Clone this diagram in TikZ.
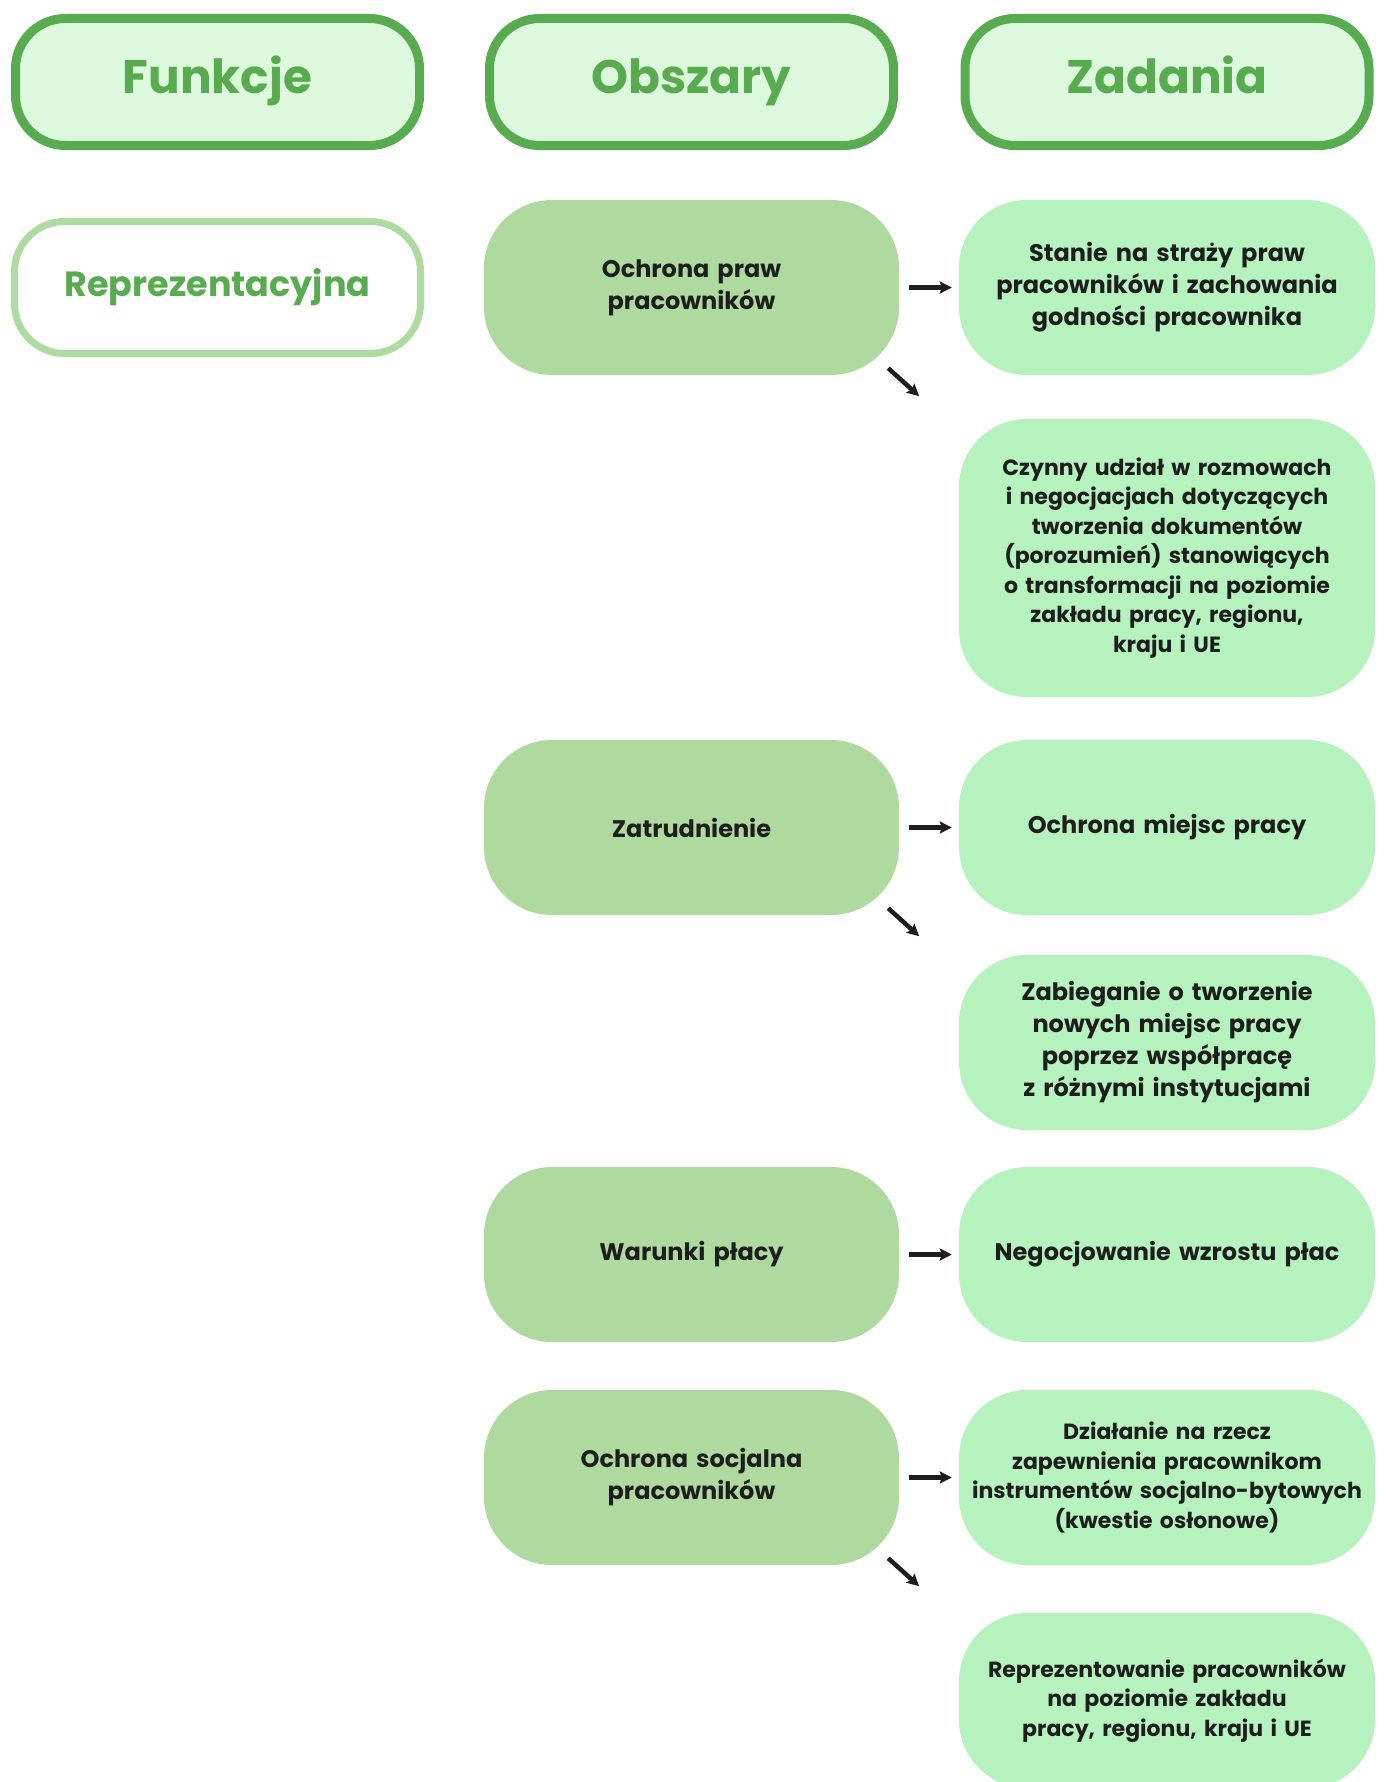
\documentclass[tikz,border=0pt]{standalone}
\usepackage{fontspec}
\setmainfont{Poppins}
\usetikzlibrary{arrows.meta,calc}
\definecolor{hdrfill}{HTML}{DDF9DD}
\definecolor{hdrline}{HTML}{58AB4F}
\definecolor{fnline}{HTML}{AEDCA0}
\definecolor{areafill}{HTML}{AEDA9F}
\definecolor{taskfill}{HTML}{B5F2BE}
\definecolor{ink}{HTML}{1E1E1E}
\tikzset{
  header/.style={draw=hdrline, line width=9pt, fill=hdrfill, rounded corners=50pt,
    minimum width=404pt, minimum height=127pt, text=hdrline,
    text height=34pt, text depth=10pt,
    font=\fontsize{47}{50}\selectfont\bfseries},
  func/.style={draw=fnline, line width=7pt, fill=white, rounded corners=50pt,
    minimum width=406pt, minimum height=132pt, text=hdrline,
    text height=25pt, text depth=8pt,
    font=\fontsize{35}{38}\selectfont\bfseries},
  area/.style={fill=areafill, rounded corners=68pt, minimum width=415pt,
    minimum height=175pt, text=ink, align=center, text width=390pt,
    font=\fontsize{24}{32}\selectfont\bfseries},
  task/.style={fill=taskfill, rounded corners=68pt, minimum width=416pt,
    minimum height=175pt, text=ink, align=center, text width=400pt,
    font=\fontsize{24}{32}\selectfont\bfseries},
  small/.style={font=\fontsize{22}{29.5}\selectfont\bfseries},
  arr/.style={-{Stealth[length=12pt,width=12pt,inset=2pt]}, line width=4.5pt, draw=ink},
}
\begin{document}
\begin{tikzpicture}[x=1pt,y=-1pt]
\useasboundingbox (0,0) rectangle (1385,1782);
\clip (0,0) rectangle (1385,1782);

% column headers
\node[header] (hf) at (217.5,82) {Funkcje};
\node[header] (ho) at (691.5,82) {Obszary};
\node[header] (hz) at (1167,82) {Zadania};

% function
\node[func] (f1) at (217.5,287.5) {Reprezentacyjna};

% areas
\node[area] (o1) at (691.5,287.5) {Ochrona praw\\pracowników};
\node[area] (o2) at (691.5,827.5) {Zatrudnienie};
\node[area] (o3) at (691.5,1254.5) {Warunki płacy};
\node[area] (o4) at (691.5,1477.5) {Ochrona socjalna\\pracowników};

% tasks
\node[task] (z1) at (1167,287.5) {Stanie na straży praw\\pracowników i zachowania\\godności pracownika};
\node[task,small,minimum height=278pt] (z2) at (1167,558) {Czynny udział w rozmowach\\i negocjacjach dotyczących\\tworzenia dokumentów\\(porozumień) stanowiących\\o transformacji na poziomie\\zakładu pracy, regionu,\\kraju i UE};
\node[task] (z3) at (1167,827.5) {Ochrona miejsc pracy};
\node[task] (z4) at (1167,1042.5) {Zabieganie o tworzenie\\nowych miejsc pracy\\poprzez współpracę\\z różnymi instytucjami};
\node[task] (z5) at (1167,1254.5) {Negocjowanie wzrostu płac};
\node[task,small] (z6) at (1167,1477.5) {Działanie na rzecz\\zapewnienia pracownikom\\instrumentów socjalno-bytowych\\(kwestie osłonowe)};
\node[task,small] (z7) at (1167,1700.5) {Reprezentowanie pracowników\\na poziomie zakładu\\pracy, regionu, kraju i UE};

% arrows to tasks
\foreach \a/\b in {o1/z1,o2/z3,o3/z5,o4/z6}{
  \draw[arr] ([xshift=10pt]\a.east) -- ([xshift=-7pt]\b.west);
}
\foreach \a in {o1,o2,o4}{
  \draw[arr] ($(\a.south east)+(-11,-7)$) -- ($(\a.south east)+(20,21)$);
}
\end{tikzpicture}
\end{document}
